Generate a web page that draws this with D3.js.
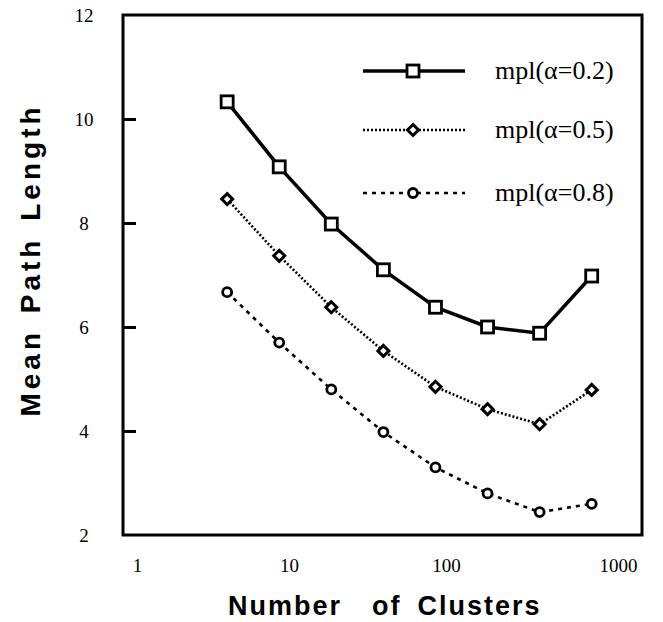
<!DOCTYPE html>
<html><head><meta charset="utf-8">
<script src="https://cdn.jsdelivr.net/npm/d3@7"></script>
<style>body{margin:0;background:#fff;} svg{display:block;}</style>
</head><body>
<svg id="c" width="663" height="622"></svg>
<script>
const clusters = [4, 8, 16, 32, 64, 128, 256, 512];
const mpl02 = [10.33, 9.08, 7.98, 7.1, 6.38, 6.0, 5.88, 6.98];
const mpl05 = [8.46, 7.37, 6.38, 5.54, 4.85, 4.42, 4.13, 4.79];
const mpl08 = [6.67, 5.7, 4.8, 3.98, 3.3, 2.8, 2.44, 2.6];
const seriesNames = ["mpl(\u03b1=0.2)", "mpl(\u03b1=0.5)", "mpl(\u03b1=0.8)"];
const xTicks = [1, 10, 100, 1000];
const yTicks = [2, 4, 6, 8, 10, 12];

const svg = d3.select("#c");
const L = 123, R = 642, T = 15, B = 535;
const x = d3.scaleLog().domain([1, 1000]).range([L, R]);
const y = d3.scaleLinear().domain([2, 12]).range([B, T]);
const serif = "'Liberation Serif', 'Times New Roman', serif";
const sans = "'Liberation Sans', Arial, sans-serif";

// frame
svg.append("rect").attr("x", L).attr("y", T).attr("width", R - L).attr("height", B - T)
  .attr("fill", "none").attr("stroke", "#000").attr("stroke-width", 3);

// y axis (inward ticks)
const ya = svg.append("g").attr("transform", `translate(${L},0)`)
  .call(d3.axisRight(y).tickValues(yTicks).tickSize(13).tickFormat(d3.format("d")));
ya.select(".domain").remove();
ya.selectAll("line").attr("stroke-width", 3);
ya.selectAll("text").attr("x", -39).attr("text-anchor", "middle")
  .style("font-family", serif).style("font-size", "19px").attr("fill", "#000");
ya.selectAll(".tick").filter(d => d === 2 || d === 12).select("line").remove();

// x axis labels (scanned labels sit slightly off their decades)
const labelShift = {1: 14, 10: -7, 100: -23, 1000: -24};
const xa = svg.append("g").attr("transform", `translate(0,${B})`)
  .call(d3.axisBottom(x).tickValues(xTicks).tickSize(0).tickFormat(d3.format("d")));
xa.select(".domain").remove();
xa.selectAll("text").attr("y", 24).attr("dx", d => labelShift[d])
  .style("font-family", serif).style("font-size", "19px").attr("fill", "#000");

// titles
const xt = svg.append("text").attr("x", 228).attr("y", 615)
  .style("font-family", sans).style("font-weight", "bold")
  .style("font-size", "27px").style("letter-spacing", "2px");
xt.append("tspan").text("Number");
xt.append("tspan").attr("dx", 30).text("of");
xt.append("tspan").attr("dx", 16).text("Clusters");

svg.append("text").attr("transform", "translate(40,260) rotate(-90)").attr("text-anchor", "middle")
  .style("font-family", sans).style("font-weight", "bold")
  .style("font-size", "28px").style("letter-spacing", "4px").style("word-spacing", "4px")
  .text("Mean Path Length");

const series = [
  {vals: mpl02, dash: null, w: 3.5, marker: "square"},
  {vals: mpl05, dash: "2,2", w: 2.6, marker: "diamond"},
  {vals: mpl08, dash: "4,5", w: 2.6, marker: "circle"}
];
const line = d3.line().x(d => x(d[0])).y(d => y(d[1]));

function drawMarker(g, type, cx, cy) {
  if (type === "square") {
    g.append("rect").attr("x", cx - 6).attr("y", cy - 6).attr("width", 12).attr("height", 12)
      .attr("fill", "#fff").attr("stroke", "#000").attr("stroke-width", 2.8);
  } else if (type === "diamond") {
    g.append("path").attr("d", `M${cx},${cy-5.5}L${cx+5.5},${cy}L${cx},${cy+5.5}L${cx-5.5},${cy}Z`)
      .attr("fill", "#fff").attr("stroke", "#000").attr("stroke-width", 3);
  } else {
    g.append("circle").attr("cx", cx).attr("cy", cy).attr("r", 4.5)
      .attr("fill", "#fff").attr("stroke", "#000").attr("stroke-width", 2.8);
  }
}

series.forEach(s => {
  const pts = clusters.map((c, i) => [c, s.vals[i]]);
  svg.append("path").attr("d", line(pts)).attr("fill", "none").attr("stroke", "#000")
    .attr("stroke-width", s.w).attr("stroke-dasharray", s.dash);
  const g = svg.append("g");
  pts.forEach(p => drawMarker(g, s.marker, x(p[0]), y(p[1])));
});

// legend
const legY = [71, 130, 193];
series.forEach((s, i) => {
  const ly = legY[i];
  svg.append("line").attr("x1", 363).attr("x2", 465).attr("y1", ly).attr("y2", ly)
    .attr("stroke", "#000").attr("stroke-width", s.w).attr("stroke-dasharray", s.dash);
  drawMarker(svg.append("g"), s.marker, 413, ly);
  svg.append("text").attr("x", 495).attr("y", ly + 8)
    .style("font-family", serif).style("font-size", "26px")
    .text(seriesNames[i]);
});
</script>
</body></html>
